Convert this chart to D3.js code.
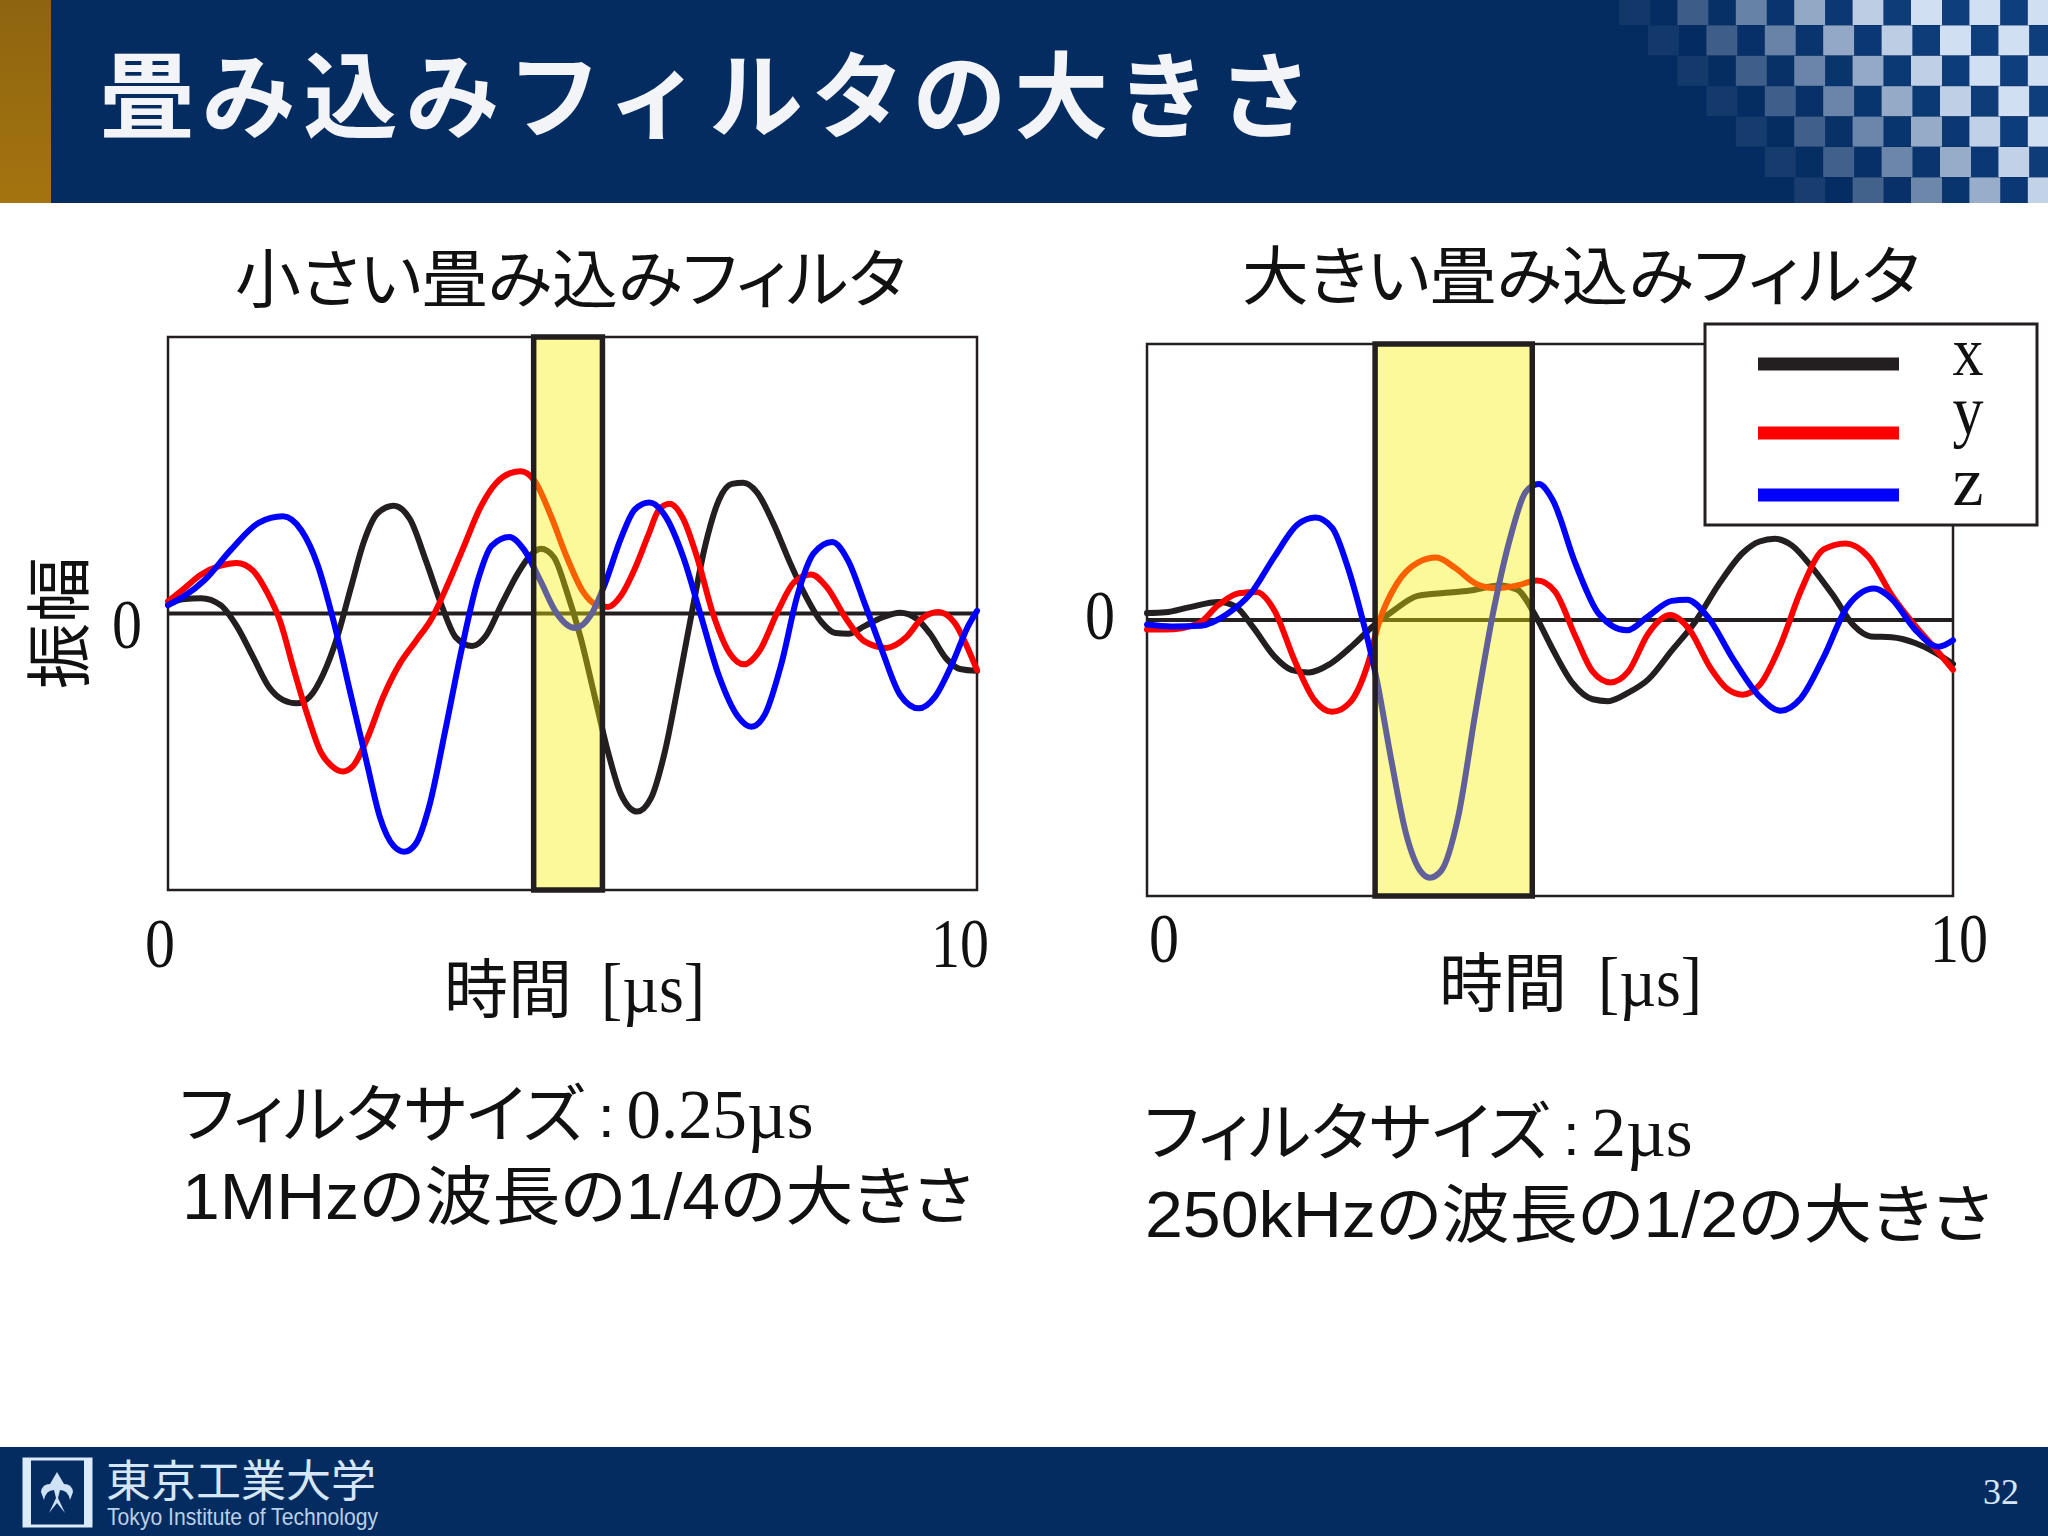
<!DOCTYPE html>
<html>
<head>
<meta charset="utf-8">
<script src="https://cdn.jsdelivr.net/npm/d3@7"></script>
<style>
	html, body { margin: 0; padding: 0; background: #fff; }
	svg { display: block; }
	text { font-family: "Liberation Sans", "Noto Sans CJK JP", sans-serif; font-feature-settings: "palt"; }
	.serif { font-family: "Liberation Serif", serif; }
</style>
</head>
<body>
<svg id="slide" width="2048" height="1536"></svg>
<script>
// left chart (small filter), time in us, amplitude in arbitrary units
var smallXT = [0,.18,.41,.65,.85,1.05,1.25,1.42,1.59,1.75,1.92,2.09,2.26,2.42,2.59,2.79,2.99,3.19,3.39,3.56,3.76,3.93,4.13,4.33,4.46,4.61,4.77,4.93,5.10,5.27,5.44,5.60,5.80,5.97,6.14,6.31,6.47,6.64,6.81,6.97,7.11,7.28,7.48,7.68,7.88,8.08,8.25,8.41,8.61,8.82,9.05,9.25,9.42,9.62,9.79,10];
var smallXV = [22,37,40,22,-33,-113,-193,-226,-235,-218,-158,-63,67,187,262,282,247,137,17,-63,-85,-58,27,107,147,169,147,57,-63,-213,-363,-473,-518,-483,-363,-183,-3,177,297,339,342,317,237,137,47,-23,-51,-53,-33,-11,2,-13,-53,-118,-145,-150];
var smallYT = [0,.18,.41,.65,.85,1.05,1.22,1.39,1.55,1.72,1.89,2.02,2.16,2.29,2.46,2.66,2.86,3.06,3.26,3.46,3.66,3.86,4.06,4.23,4.36,4.53,4.73,4.93,5.13,5.30,5.44,5.60,5.77,5.94,6.07,6.20,6.37,6.54,6.74,6.94,7.12,7.31,7.54,7.74,7.95,8.15,8.38,8.61,8.88,9.12,9.32,9.52,9.72,9.89,10];
var smallYV = [32,62,102,125,132,112,57,-23,-143,-263,-363,-398,-413,-398,-328,-218,-133,-73,-13,77,177,277,342,367,372,347,257,147,57,22,17,47,117,207,272,287,247,147,-3,-103,-133,-98,7,82,102,67,-13,-73,-90,-63,-13,4,-23,-93,-148];
var smallZT = [0,.21,.45,.78,1.12,1.42,1.65,1.85,2.05,2.26,2.46,2.62,2.79,2.92,3.06,3.23,3.43,3.63,3.83,4.00,4.22,4.40,4.60,4.80,5.03,5.23,5.40,5.60,5.77,5.95,6.14,6.37,6.57,6.81,7.04,7.21,7.38,7.58,7.78,7.98,8.21,8.41,8.61,8.82,9.05,9.28,9.48,9.69,9.89,10];
var smallZV = [22,47,87,167,237,254,217,127,-23,-213,-393,-533,-608,-623,-603,-503,-303,-93,87,177,200,167,87,2,-38,-3,77,197,272,290,257,147,7,-163,-268,-296,-263,-133,47,157,187,137,27,-93,-213,-248,-218,-133,-33,7];

// right chart (large filter)
var largeXT = [0,.23,.52,.89,1.10,1.32,1.58,1.79,2.01,2.27,2.56,2.81,3.06,3.36,3.65,4.01,4.37,4.59,4.81,5.03,5.28,5.53,5.72,5.97,6.22,6.51,6.80,7.10,7.39,7.60,7.79,8.00,8.26,8.51,8.77,8.98,9.24,9.53,9.78,10];
var largeXV = [18,20,33,47,35,-20,-95,-130,-137,-115,-65,-15,25,63,70,77,90,80,15,-75,-165,-207,-212,-190,-155,-80,-5,95,175,205,212,195,135,65,-15,-43,-45,-60,-85,-115];
var largeYT = [0,.23,.63,.89,1.14,1.36,1.58,1.83,2.08,2.30,2.52,2.74,2.88,3.10,3.36,3.59,3.83,4.08,4.34,4.59,4.84,5.06,5.32,5.53,5.75,5.97,6.22,6.49,6.73,6.99,7.20,7.39,7.60,7.86,8.11,8.40,8.67,8.95,9.24,9.53,9.78,10];
var largeYV = [-25,-25,-10,40,70,73,25,-105,-210,-240,-215,-115,-5,95,150,163,135,95,83,90,103,75,-45,-135,-163,-135,-35,13,-25,-125,-180,-195,-170,-65,75,185,200,165,65,-15,-75,-130];
var largeZT = [0,.31,.67,.99,1.29,1.58,1.87,2.09,2.30,2.48,2.67,2.85,3.03,3.21,3.39,3.51,3.65,3.86,4.08,4.30,4.52,4.70,4.86,5.03,5.32,5.61,5.95,6.22,6.51,6.70,6.95,7.28,7.60,7.86,8.11,8.40,8.69,9.02,9.24,9.53,9.82,10];
var largeZV = [-12,-17,-15,15,70,165,250,268,240,145,5,-155,-365,-555,-655,-673,-655,-515,-235,25,225,335,355,315,145,15,-27,10,50,53,10,-105,-200,-237,-205,-95,35,82,55,-25,-70,-53];

var seriesNames = ["x", "y", "z"];
var seriesColors = ["#231f20", "#ff0000", "#0000ff"];
var timeTicks = [0, 10];
var smallWindow = [4.52, 5.37];
var largeWindow = [2.83, 4.78];

var svg = d3.select("#slide");

function zip(t, v) {
	return t.map(function(d, i){ return [d, v[i]]; });
}

// the slide's serif digits are narrow, 30px per digit at this size
function serifLabel(str, px, py, w) {
	return svg.append("text").attr("class", "serif")
		.attr("x", px - w / 2).attr("y", py)
		.attr("font-size", 70).attr("fill", "#111")
		.attr("textLength", w).attr("lengthAdjust", "spacingAndGlyphs")
		.text(str);
}

function drawChart(o) {
	var x = d3.scaleLinear().domain([0, 10]).range([o.left, o.right]);
	var y = d3.scaleLinear().domain(o.ampDomain).range([o.bottom, o.top]);
	var g = svg.append("g");
	var line = d3.line()
		.x(function(d){ return x(d[0]); })
		.y(function(d){ return y(d[1]); })
		.curve(d3.curveMonotoneX);

	g.append("rect")
		.attr("x", o.left).attr("y", o.top)
		.attr("width", o.right - o.left).attr("height", o.bottom - o.top)
		.attr("fill", "#fff").attr("stroke", "#231f20").attr("stroke-width", 2.5);

	g.append("line")
		.attr("x1", o.left).attr("x2", o.right)
		.attr("y1", y(0)).attr("y2", y(0))
		.attr("stroke", "#231f20").attr("stroke-width", 4);

	g.selectAll("path.wave").data(o.series).enter().append("path")
		.attr("class", "wave")
		.attr("d", line)
		.attr("fill", "none")
		.attr("stroke-width", 6)
		.attr("stroke-linecap", "round")
		.attr("stroke", function(d, i){ return seriesColors[i]; });

	// filter window, see-through so the curves show under it
	g.append("rect")
		.attr("x", x(o.window[0])).attr("y", o.top)
		.attr("width", x(o.window[1]) - x(o.window[0])).attr("height", o.bottom - o.top)
		.attr("fill", "rgb(245,240,0)").attr("fill-opacity", 0.4)
		.attr("stroke", "#231f20").attr("stroke-width", 5.5);

	timeTicks.forEach(function(d, i){
		serifLabel(d, x(d) + o.tickDx[i], o.tickY, i ? 58 : 30);
	});
}

function slideBackground() {
	svg.append("rect").attr("width", 2048).attr("height", 203).attr("fill", "#052c60");
	var gold = svg.append("defs").append("linearGradient").attr("id", "gold")
		.attr("x1", 0).attr("x2", 0).attr("y1", 0).attr("y2", 1);
	gold.append("stop").attr("offset", 0).attr("stop-color", "#8e6410");
	gold.append("stop").attr("offset", 1).attr("stop-color", "#a4740f");
	svg.append("rect").attr("width", 51).attr("height", 203).attr("fill", "url(#gold)");

	// checker pattern top right, fades out to the left
	var rows = d3.range(7), cols = d3.range(-1, 9);
	rows.forEach(function(r){
		var top = Math.max(0, r * 30.4 - 5);
		var h = Math.min(203, r * 30.4 + 25) - top;
		cols.forEach(function(c){
			var px = 1619 + c * 58.4 + (r % 2 ? 29 : 0);
			var fade = Math.max(0, Math.min(1, (px - 1600 - r * 28) / 280));
			svg.append("rect")
				.attr("x", px).attr("y", top)
				.attr("width", 31).attr("height", h)
				.attr("fill", "#dce9fa").attr("opacity", fade * 0.95);
			svg.append("rect")
				.attr("x", px + 31).attr("y", top)
				.attr("width", 27.4).attr("height", h)
				.attr("fill", "#0e3e7c").attr("opacity", fade);
		});
	});

	svg.append("rect").attr("y", 1447).attr("width", 2048).attr("height", 89).attr("fill", "#052c60");
	svg.append("rect").attr("x", 24).attr("y", 1459).attr("width", 67).attr("height", 67)
		.attr("fill", "#052c60").attr("stroke", "#dcebfa").attr("stroke-width", 3);
	svg.append("rect").attr("x", 24).attr("y", 1459).attr("width", 7).attr("height", 67).attr("fill", "#dcebfa");
	svg.append("rect").attr("x", 84).attr("y", 1459).attr("width", 7).attr("height", 67).attr("fill", "#dcebfa");
	svg.append("path")
		.attr("d", "M41 1492 Q42 1484 50 1484 L57 1472 L64 1484 Q72 1484 73 1492 L70 1500 Q68 1490 60 1490 L58 1498 L65 1513 L57 1503 L49 1513 L56 1498 L54 1490 Q46 1490 44 1500 Z")
		.attr("fill", "#cfe2f5");
}

function label(str, px, py, size, width, fill) {
	var t = svg.append("text").attr("x", px).attr("y", py).attr("font-size", size).attr("fill", fill || "#111").text(str);
	if(width){
		t.attr("textLength", width).attr("lengthAdjust", "spacingAndGlyphs");
	}
	return t;
}

slideBackground();

label("畳み込みフィルタの大きさ", 100, 131, 94, 1212, "#f2f4f7")
	.attr("font-weight", 700)
	.attr("lengthAdjust", "spacing")
	.style("font-feature-settings", "normal");

drawChart({
	left: 168, right: 977, top: 337, bottom: 890,
	ampDomain: [-723, 723],
	series: [zip(smallXT, smallXV), zip(smallYT, smallYV), zip(smallZT, smallZV)],
	window: smallWindow,
	tickY: 967, tickDx: [-8, -17]
});
drawChart({
	left: 1147, right: 1953, top: 344, bottom: 896,
	ampDomain: [-721, 721],
	series: [zip(largeXT, largeXV), zip(largeYT, largeYV), zip(largeZT, largeZV)],
	window: largeWindow,
	tickY: 962, tickDx: [17, 6]
});

label("小さい畳み込みフィルタ", 235, 302, 64, 671);
label("大きい畳み込みフィルタ", 1242, 299, 64, 678);

svg.append("text").attr("font-size", 66).attr("fill", "#111")
	.attr("text-anchor", "middle")
	.attr("transform", "translate(83,623) rotate(-90)")
	.text("振幅");
serifLabel("0", 127, 648, 30);
serifLabel("0", 1100, 639, 30);

label("時間", 444, 1012, 64, 128);
serifLabel("[µs]", 653, 1012, 104);
label("時間", 1439, 1006, 64, 128);
serifLabel("[µs]", 1650, 1006, 104);

label("フィルタサイズ", 179, 1137, 64, 405);
label(":", 598, 1137, 60);
serifLabel("0.25µs", 720, 1138, 187);
label("1MHzの波長の1/4の大きさ", 182, 1219, 64, 791);

label("フィルタサイズ", 1144, 1155, 64, 405);
label(":", 1563, 1155, 60);
serifLabel("2µs", 1642, 1156, 101);
label("250kHzの波長の1/2の大きさ", 1145, 1237, 64, 847);

// legend drawn over the right chart
var legend = svg.append("g");
var legendY = d3.scaleOrdinal().domain(seriesNames).range([364, 433, 495]);
var legendText = d3.scaleOrdinal().domain(seriesNames).range([375, 434, 505]);
legend.append("rect").attr("x", 1705).attr("y", 324).attr("width", 332).attr("height", 201)
	.attr("fill", "#fff").attr("stroke", "#231f20").attr("stroke-width", 3);
legend.selectAll("line").data(seriesNames).enter().append("line")
	.attr("x1", 1758).attr("x2", 1899)
	.attr("y1", function(d){ return legendY(d); })
	.attr("y2", function(d){ return legendY(d); })
	.attr("stroke-width", 13)
	.attr("stroke", function(d, i){ return seriesColors[i]; });
seriesNames.forEach(function(d){
	serifLabel(d, 1968, legendText(d), 31);
});

// footer
label("東京工業大学", 106, 1497, 44, 270, "#d5e6f6");
label("Tokyo Institute of Technology", 107, 1525, 24, 271, "#b9d0e8");
svg.append("text").attr("x", 2019).attr("y", 1504).attr("text-anchor", "end")
	.attr("class", "serif").attr("font-size", 36).attr("fill", "#d5e6f6").text("32");
</script>
</body>
</html>
